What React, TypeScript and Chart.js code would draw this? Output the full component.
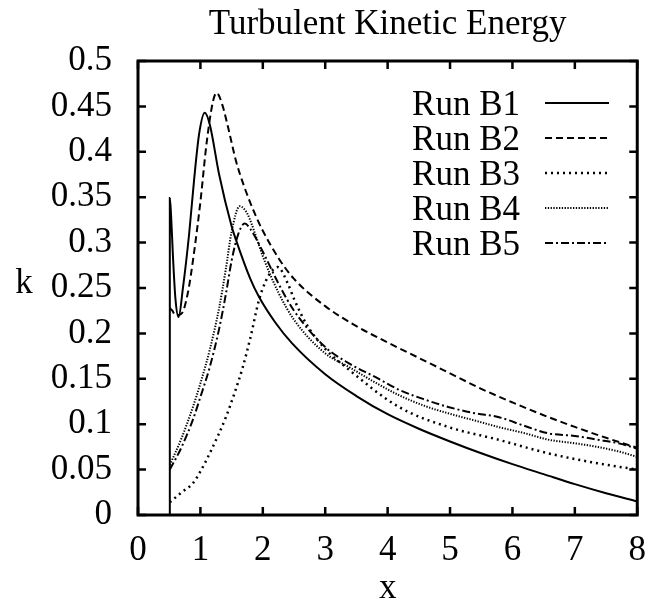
import React, { useEffect, useRef } from "react";
import { Chart, registerables } from "chart.js";

Chart.register(...registerables);

const FONT = "'Liberation Serif', 'Times New Roman', serif";
const FS = 35;

const titleText = "Turbulent Kinetic Energy";
const xTitle = "x";
const yTitle = "k";
const seriesNames = ["Run B1", "Run B2", "Run B3", "Run B4", "Run B5"];

const b1X = [0.51, 0.51, 0.53, 0.56, 0.6, 0.65, 0.72, 0.82, 0.9, 0.98, 1.07, 1.15, 1.3, 1.5, 1.57, 1.8, 1.94, 2.2, 2.47, 3.0, 3.5, 4.0, 4.5, 5.0, 5.5, 6.0, 6.5, 7.0, 7.5, 8.0];
const b1K = [0.0, 0.349, 0.33, 0.285, 0.238, 0.218, 0.25, 0.31, 0.37, 0.42, 0.443, 0.43, 0.375, 0.318, 0.303, 0.26, 0.24, 0.212, 0.189, 0.155, 0.131, 0.111, 0.095, 0.081, 0.068, 0.056, 0.045, 0.034, 0.024, 0.015];

const b2X = [0.51, 0.55, 0.6, 0.7, 0.8, 0.9, 1.0, 1.1, 1.2, 1.26, 1.35, 1.45, 1.57, 1.7, 1.89, 2.0, 2.26, 2.5, 3.0, 3.5, 4.0, 4.5, 5.0, 5.5, 6.0, 6.57, 7.0, 7.5, 8.0];
const b2K = [0.228, 0.225, 0.22, 0.222, 0.245, 0.29, 0.345, 0.41, 0.455, 0.465, 0.452, 0.425, 0.39, 0.362, 0.329, 0.313, 0.282, 0.26, 0.23, 0.208, 0.19, 0.173, 0.156, 0.139, 0.124, 0.108, 0.097, 0.085, 0.074];

const b3X = [0.51, 0.7, 0.88, 1.0, 1.15, 1.41, 1.55, 1.68, 1.8, 1.94, 2.05, 2.16, 2.24, 2.4, 2.5, 2.7, 3.0, 3.38, 4.18, 4.97, 5.77, 6.57, 7.36, 8.0];
const b3K = [0.014, 0.025, 0.035, 0.048, 0.068, 0.108, 0.135, 0.163, 0.195, 0.237, 0.258, 0.27, 0.273, 0.255, 0.238, 0.21, 0.183, 0.16, 0.119, 0.097, 0.083, 0.068, 0.057, 0.05];

const b4X = [0.51, 0.7, 0.88, 1.0, 1.15, 1.3, 1.41, 1.5, 1.63, 1.75, 1.9, 2.0, 2.25, 2.5, 3.0, 3.38, 3.8, 4.18, 4.6, 4.97, 5.4, 5.77, 6.2, 6.57, 7.0, 7.36, 7.7, 8.0];
const b4K = [0.055, 0.085, 0.119, 0.145, 0.182, 0.228, 0.272, 0.312, 0.34, 0.332, 0.305, 0.285, 0.245, 0.215, 0.178, 0.163, 0.146, 0.132, 0.12, 0.112, 0.104, 0.097, 0.09, 0.083, 0.079, 0.075, 0.07, 0.064];

const b5X = [0.51, 0.7, 0.88, 1.0, 1.15, 1.3, 1.41, 1.5, 1.6, 1.71, 1.8, 2.0, 2.25, 2.5, 3.0, 3.38, 3.8, 4.18, 4.6, 4.97, 5.4, 5.77, 6.2, 6.57, 7.0, 7.36, 7.7, 8.0];
const b5K = [0.05, 0.075, 0.105, 0.13, 0.163, 0.205, 0.244, 0.28, 0.308, 0.321, 0.315, 0.29, 0.255, 0.225, 0.185, 0.167, 0.152, 0.138, 0.127, 0.119, 0.112, 0.108, 0.098, 0.09, 0.087, 0.083, 0.079, 0.073];

const xTicks = [0, 1, 2, 3, 4, 5, 6, 7, 8];
const yTicks = [0, 0.05, 0.1, 0.15, 0.2, 0.25, 0.3, 0.35, 0.4, 0.45, 0.5];

const seriesX = [b1X, b2X, b3X, b4X, b5X];
const seriesK = [b1K, b2K, b3K, b4K, b5K];

const styles = [
  { dash: [] as number[], width: 2 },
  { dash: [7, 4], width: 2 },
  { dash: [2, 4], width: 2.5 },
  { dash: [1.3, 1.5], width: 2 },
  { dash: [8, 3, 2, 3], width: 2 },
];

const framePlugin = {
  id: "gnuplotFrame",
  afterDraw(chart: any) {
    const { ctx, chartArea } = chart;
    const { left, right, top, bottom } = chartArea;
    const xs = chart.scales.x;
    const ys = chart.scales.y;
    ctx.save();
    ctx.strokeStyle = "#000";
    ctx.lineWidth = 3;
    ctx.setLineDash([]);
    ctx.strokeRect(left, top, right - left, bottom - top);
    ctx.lineWidth = 2.5;
    const tl = 8;
    ctx.beginPath();
    xTicks.forEach((v) => {
      const px = xs.getPixelForValue(v);
      ctx.moveTo(px, bottom);
      ctx.lineTo(px, bottom - tl);
      ctx.moveTo(px, top);
      ctx.lineTo(px, top + tl);
    });
    yTicks.forEach((v) => {
      const py = ys.getPixelForValue(v);
      ctx.moveTo(left, py);
      ctx.lineTo(left + tl, py);
      ctx.moveTo(right, py);
      ctx.lineTo(right - tl, py);
    });
    ctx.stroke();

    ctx.fillStyle = "#000";
    ctx.font = `${FS}px ${FONT}`;
    ctx.textAlign = "center";
    ctx.textBaseline = "alphabetic";
    ctx.fillText(titleText, (left + right) / 2, 34);
    ctx.fillText(xTitle, (left + right) / 2, 598);
    ctx.fillText(yTitle, 24, 293);

    seriesNames.forEach((name, i) => {
      const base = 115 + i * 35;
      ctx.textAlign = "right";
      ctx.fillStyle = "#000";
      ctx.fillText(name, 520, base);
      const st = styles[i];
      ctx.beginPath();
      ctx.lineWidth = st.width;
      ctx.setLineDash(st.dash);
      ctx.moveTo(545, base - 12);
      ctx.lineTo(609, base - 12);
      ctx.stroke();
    });
    ctx.restore();
  },
};

export default function App() {
  const ref = useRef<HTMLCanvasElement | null>(null);
  useEffect(() => {
    document.body.style.margin = "0";
    const canvas = ref.current!;
    const datasets = seriesNames.map((name, i) => ({
      label: name,
      data: seriesX[i].map((x, j) => ({ x, y: seriesK[i][j] })),
      borderColor: "#000",
      backgroundColor: "#000",
      borderWidth: styles[i].width,
      borderDash: styles[i].dash,
      pointRadius: 0,
      fill: false,
      cubicInterpolationMode: "monotone" as const,
    }));
    const chart = new Chart(canvas, {
      type: "line",
      data: { datasets },
      options: {
        animation: false,
        responsive: false,
        maintainAspectRatio: false,
        layout: { padding: { top: 61, right: 21, left: 0, bottom: 0 } },
        plugins: {
          legend: { display: false },
          title: { display: false },
          tooltip: { enabled: false },
        },
        scales: {
          x: {
            type: "linear",
            min: 0,
            max: 8,
            afterFit: (s: any) => {
              s.height = 88;
            },
            afterBuildTicks: (s: any) => {
              s.ticks = xTicks.map((v) => ({ value: v }));
            },
            ticks: {
              color: "#000",
              font: { family: FONT, size: FS },
              padding: 15,
              maxRotation: 0,
              autoSkip: false,
            },
            grid: { display: false, drawTicks: false },
            border: { display: false },
          },
          y: {
            type: "linear",
            min: 0,
            max: 0.5,
            afterFit: (s: any) => {
              s.width = 138;
            },
            afterBuildTicks: (s: any) => {
              s.ticks = yTicks.map((v) => ({ value: v }));
            },
            ticks: {
              color: "#000",
              font: { family: FONT, size: FS },
              padding: 26,
              autoSkip: false,
              callback: (v: any) => String(Number(Number(v).toFixed(2))),
            },
            grid: { display: false, drawTicks: false },
            border: { display: false },
          },
        },
      },
      plugins: [framePlugin],
    });
    return () => chart.destroy();
  }, []);
  return (
    <div style={{ position: "absolute", left: 0, top: 0, width: 661, height: 603, background: "#fff" }}>
      <canvas ref={ref} width={661} height={603} />
    </div>
  );
}
